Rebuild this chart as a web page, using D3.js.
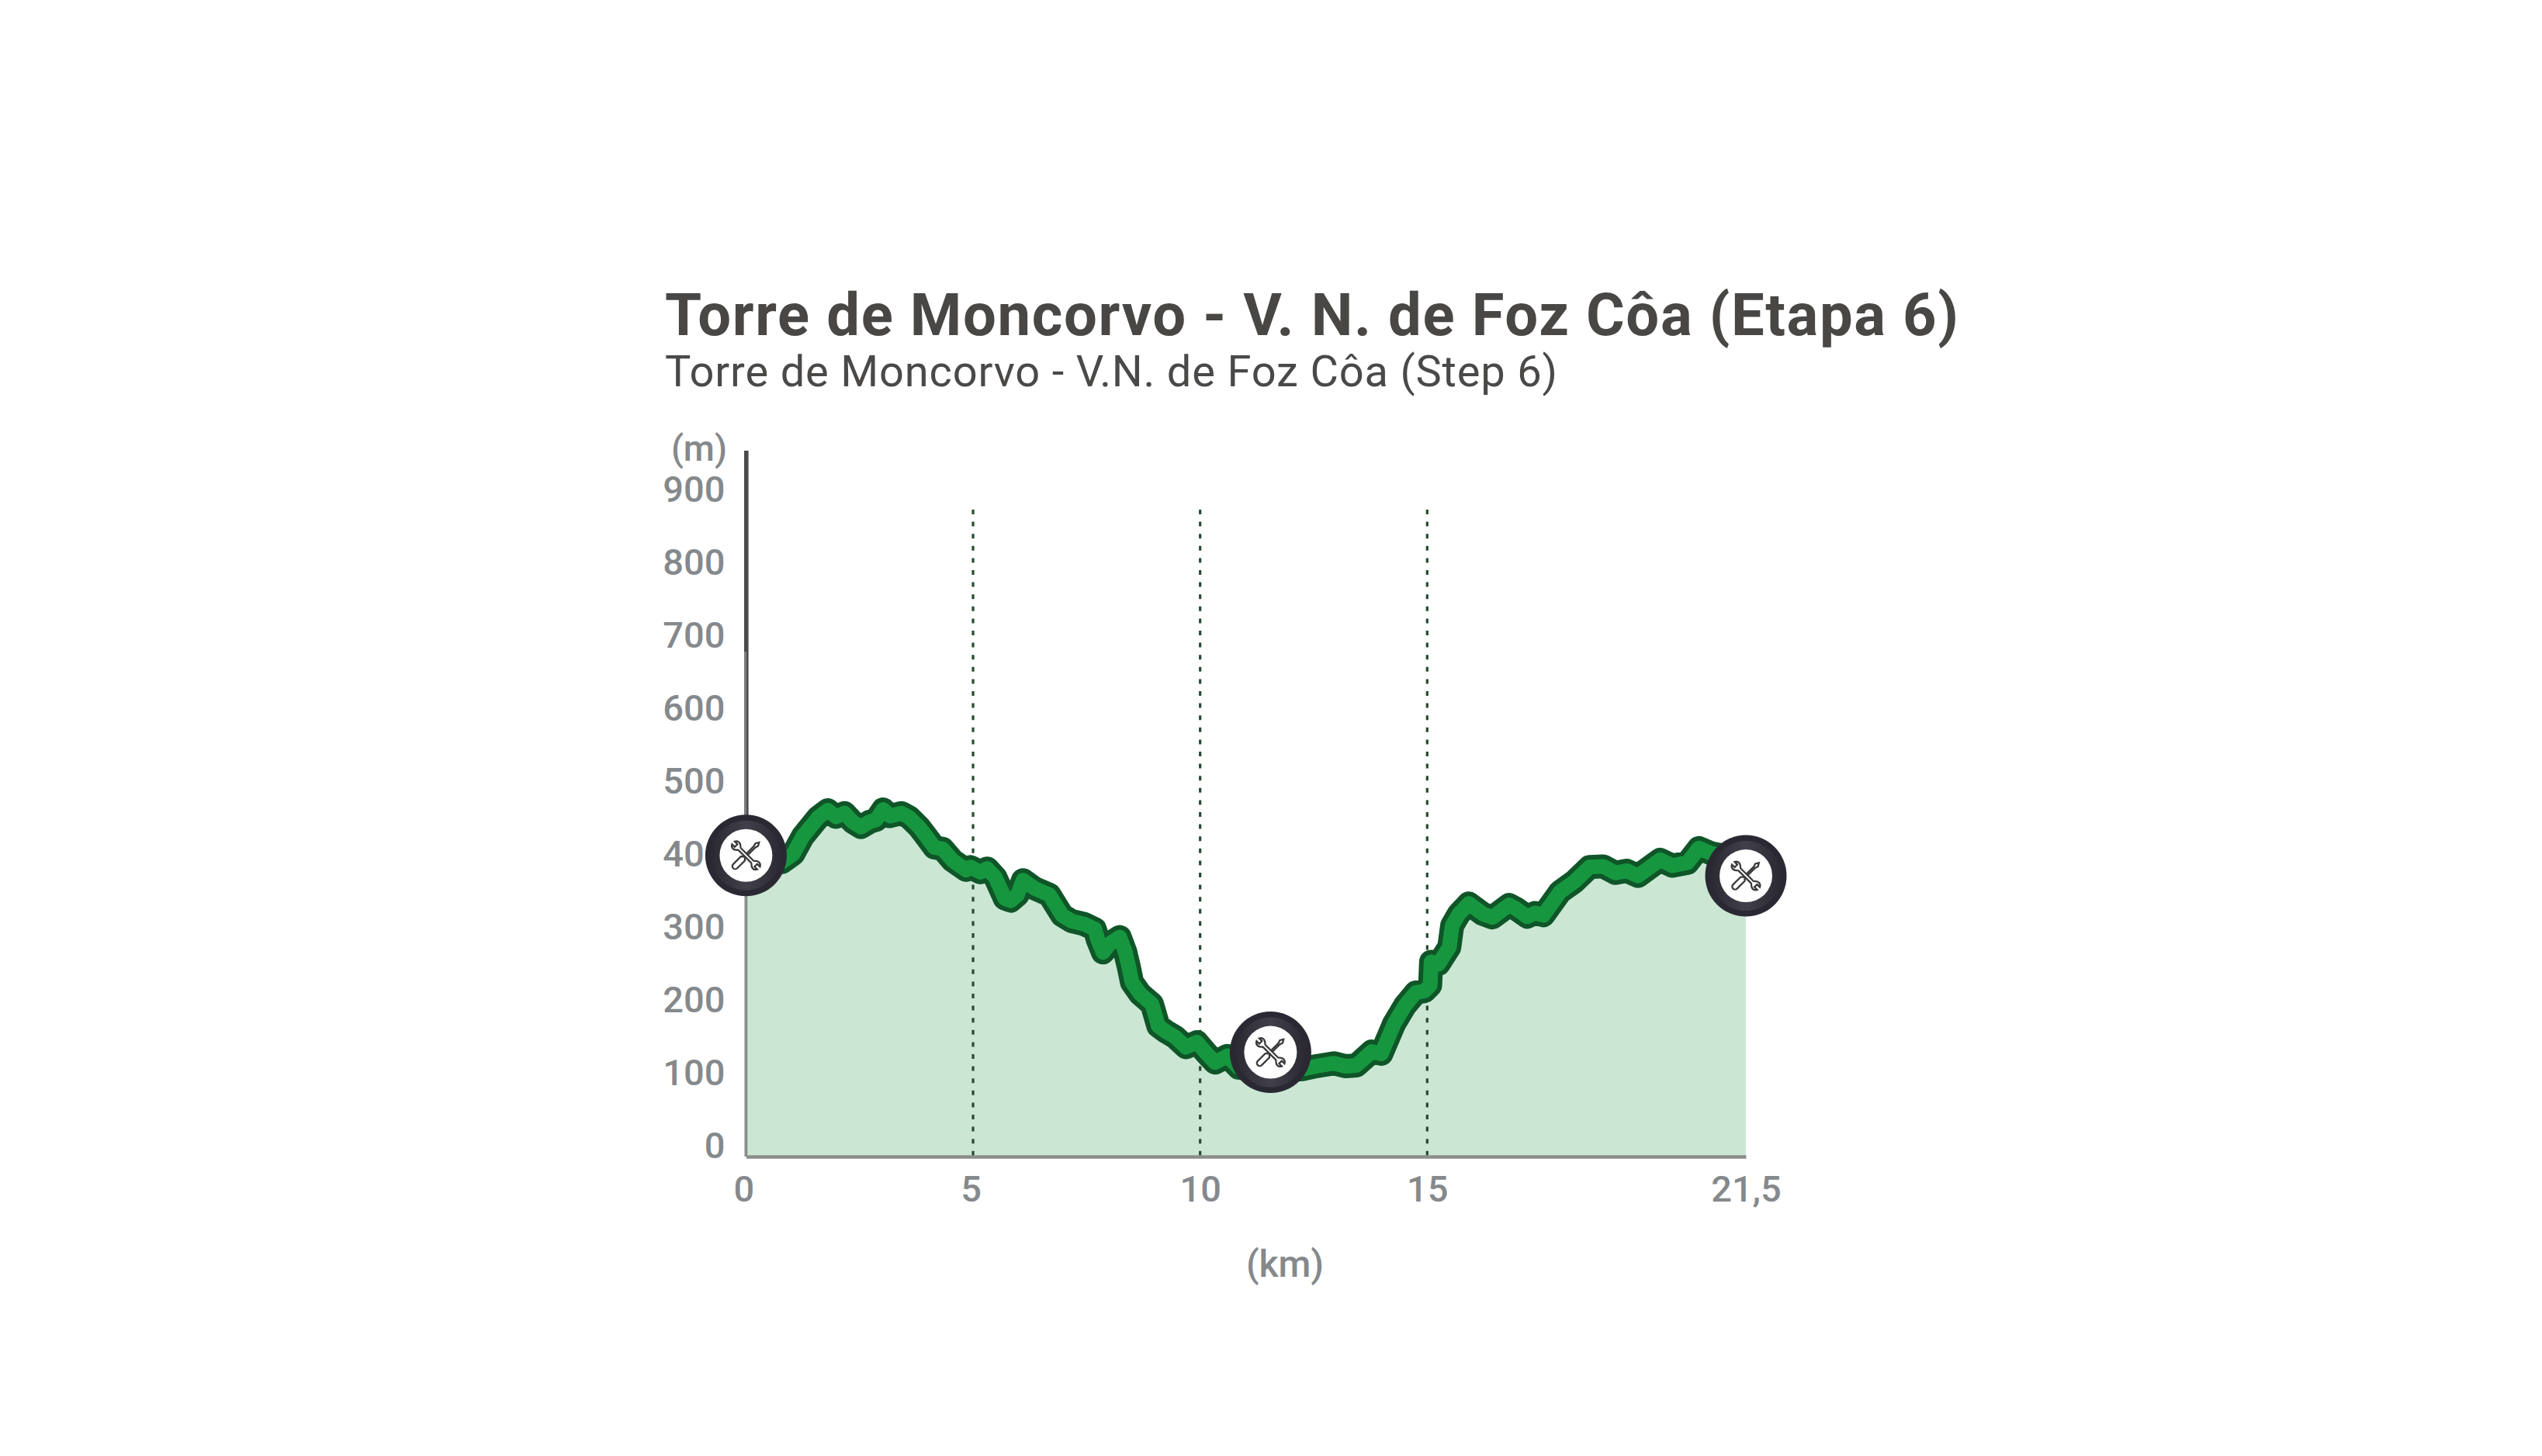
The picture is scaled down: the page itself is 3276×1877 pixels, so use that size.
<!DOCTYPE html>
<html>
<head>
<meta charset="utf-8">
<title>Torre de Moncorvo - V. N. de Foz Côa (Etapa 6)</title>
<script src="https://cdn.jsdelivr.net/npm/d3@7"></script>
<style>
  html, body { margin: 0; padding: 0; background: #fff; }
  svg { display: block; }
  text { font-family: Roboto, "Noto Sans", sans-serif; }
</style>
</head>
<body>
<svg></svg>
<script>
'use strict'

const titleText = 'Torre de Moncorvo - V. N. de Foz Côa (Etapa 6)'
const subtitleText = 'Torre de Moncorvo - V.N. de Foz Côa (Step 6)'

const km = [0, 0.79, 1.04, 1.25, 1.59, 1.8, 1.98, 2.17, 2.35, 2.53, 2.72, 2.87, 3.02, 3.17, 3.42, 3.6, 3.81, 3.97, 4.15, 4.33, 4.55, 4.85, 4.94, 5.16, 5.31, 5.49, 5.7, 5.83, 5.98, 6.1, 6.35, 6.68, 6.96, 7.17, 7.44, 7.68, 7.75, 7.86, 8.01, 8.23, 8.35, 8.43, 8.5, 8.68, 8.94, 9.08, 9.26, 9.45, 9.69, 9.93, 10.12, 10.33, 10.6, 10.85, 11.55, 12.25, 12.56, 12.95, 13.2, 13.44, 13.78, 13.99, 14.27, 14.51, 14.75, 14.94, 15.06, 15.08, 15.23, 15.45, 15.51, 15.65, 15.85, 16.13, 16.33, 16.47, 16.67, 16.81, 17.04, 17.2, 17.37, 17.71, 18, 18.31, 18.59, 18.84, 19.07, 19.3, 19.75, 20, 20.31, 20.54, 20.79, 21.16, 21.5]
const elevation = [400, 404, 415, 439, 465, 475, 466, 471, 459, 452, 459, 462, 476, 467, 471, 465, 452, 439, 424, 422, 406, 393, 397, 390, 395, 383, 354, 351, 359, 379, 368, 359, 331, 323, 319, 312, 297, 280, 292, 301, 281, 260, 239, 223, 209, 179, 171, 164, 150, 157, 143, 129, 138, 122, 117, 120, 124, 128, 124, 125, 144, 141, 182, 207, 225, 227, 235, 267, 264, 287, 317, 333, 347, 333, 328, 335, 345, 340, 329, 334, 331, 363, 377, 397, 398, 389, 392, 385, 407, 399, 403, 423, 416, 411, 409]

const yTicks = [0, 100, 200, 300, 400, 500, 600, 700, 800, 900]
const xTicks = [0, 5, 10, 15, 21.5]
const gridKm = [5, 10, 15]
const serviceKm = [0, 11.55, 21.5]
const serviceElevation = [413, 143, 385]

const width = 3276
const height = 1877

const x = d3.scaleLinear().domain([0, 15, 21.5]).range([961.4, 1839.3, 2250])
const y = d3.scaleLinear().domain([0, 900]).range([1491, 645])
const points = km.map((d, i) => [d, elevation[i]])

const svg = d3.select('svg').attr('width', width).attr('height', height)

// titles
svg.append('text')
  .attr('x', 857).attr('y', 432)
  .attr('font-size', 76).attr('font-weight', 700).attr('fill', '#484745')
  .attr('textLength', 1667).attr('lengthAdjust', 'spacing')
  .text(titleText)
svg.append('text')
  .attr('x', 857).attr('y', 498)
  .attr('font-size', 56).attr('font-weight', 400).attr('fill', '#4a4948')
  .attr('textLength', 1150).attr('lengthAdjust', 'spacing')
  .text(subtitleText)

// area
svg.append('path')
  .datum(points)
  .attr('fill', '#cbe7d4')
  .attr('d', d3.area().x(d => x(d[0])).y0(y(0)).y1(d => y(d[1])))

// dotted km lines
svg.append('g').selectAll('line')
  .data(gridKm)
  .join('line')
  .attr('x1', d => x(d)).attr('x2', d => x(d))
  .attr('y1', 657).attr('y2', y(0))
  .attr('stroke', '#264a30')
  .attr('stroke-width', 3.2)
  .attr('stroke-dasharray', '6 9.6')

// axes
const xAxis = svg.append('g')
  .attr('transform', `translate(0,${y(0)})`)
  .call(d3.axisBottom(x).tickValues(xTicks).tickSize(0).tickPadding(25)
    .tickFormat(d => String(d).replace('.', ',')))
xAxis.select('.domain').attr('stroke', '#8c8e8e').attr('stroke-width', 4.5)
xAxis.selectAll('text')
  .attr('dx', d => d <= 5 ? -3 : 0)
  .attr('font-size', 47).attr('font-weight', 500).attr('fill', '#85898c')
  .attr('font-family', 'Roboto')

const yAxis = svg.append('g')
  .attr('transform', `translate(${x(0)},0)`)
  .call(d3.axisLeft(y).tickValues(yTicks).tickSize(0).tickPadding(27))
yAxis.select('.domain').remove()
yAxis.selectAll('text')
  .attr('dy', 1.5)
  .attr('font-size', 47).attr('font-weight', 500).attr('fill', '#85898c')
  .attr('font-family', 'Roboto')

// vertical axis: wide dark stretch at the top, then dark with a grey left half, grey over the profile
svg.append('line')
  .attr('x1', x(0) + 0.4).attr('x2', x(0) + 0.4)
  .attr('y1', 581).attr('y2', 840)
  .attr('stroke', '#4a4a4b').attr('stroke-width', 5.6)
svg.append('line')
  .attr('x1', x(0) - 1).attr('x2', x(0) - 1)
  .attr('y1', 840).attr('y2', y(elevation[0]))
  .attr('stroke', '#77787a').attr('stroke-width', 2.8)
svg.append('line')
  .attr('x1', x(0) + 1.8).attr('x2', x(0) + 1.8)
  .attr('y1', 840).attr('y2', y(elevation[0]))
  .attr('stroke', '#4a4a4b').attr('stroke-width', 2.8)
svg.append('line')
  .attr('x1', x(0)).attr('x2', x(0))
  .attr('y1', y(elevation[0])).attr('y2', y(0))
  .attr('stroke', '#8a8d8d').attr('stroke-width', 3.8)

svg.append('text')
  .attr('x', 937).attr('y', 594)
  .attr('text-anchor', 'end')
  .attr('font-size', 46).attr('font-weight', 500).attr('fill', '#85898c')
  .text('(m)')
svg.append('text')
  .attr('x', 1656).attr('y', 1646)
  .attr('text-anchor', 'middle')
  .attr('font-size', 48).attr('font-weight', 500).attr('fill', '#85898c')
  .text('(km)')

// profile line
const line = d3.line().x(d => x(d[0])).y(d => y(d[1]))
svg.append('path')
  .datum(points)
  .attr('fill', 'none')
  .attr('stroke', '#0f5528')
  .attr('stroke-width', 31)
  .attr('stroke-linejoin', 'round')
  .attr('d', line)
svg.append('path')
  .datum(points)
  .attr('fill', 'none')
  .attr('stroke', '#16973f')
  .attr('stroke-width', 19)
  .attr('stroke-linejoin', 'round')
  .attr('d', line)

// service point markers
const rim = svg.append('defs').append('linearGradient')
  .attr('id', 'rim')
  .attr('x1', 0).attr('x2', 1).attr('y1', 0).attr('y2', 0)
rim.append('stop').attr('offset', 0).attr('stop-color', '#2b2a33')
rim.append('stop').attr('offset', 0.5).attr('stop-color', '#413f49')
rim.append('stop').attr('offset', 1).attr('stop-color', '#2b2a33')

const wrench = 'M-2.5,-14C-2.5,-16,-7,-17,-7,-22C-7,-25,-5,-27,-3,-28L-3,-22L3,-22L3,-28C5,-27,7,-25,7,-22C7,-17,2.5,-16,2.5,-14L2.5,14C2.5,16,7,17,7,22C7,25,5,27,3,28L3,22L-3,22L-3,28C-5,27,-7,25,-7,22C-7,17,-2.5,16,-2.5,14Z'
const driver = 'M0,-29L3,-24L1.5,-19L1.5,4L4.5,7L4.5,24A4.5,4.5,0,0,1,-4.5,24L-4.5,7L-1.5,4L-1.5,-19L-3,-24Z'

const marker = svg.append('g').selectAll('g')
  .data(serviceKm.map((d, i) => [d, serviceElevation[i]]))
  .join('g')
  .attr('transform', d => `translate(${x(d[0])},${y(d[1])})`)
marker.append('circle').attr('r', 52.5).attr('fill', '#2a2933')
marker.append('circle').attr('r', 45).attr('fill', 'url(#rim)')
marker.append('circle').attr('r', 34).attr('fill', '#fff')
marker.append('path')
  .attr('d', driver)
  .attr('transform', 'rotate(45) scale(0.82)')
  .attr('fill', '#fff').attr('stroke', '#3a3a3c').attr('stroke-width', 2.8)
marker.append('path')
  .attr('d', wrench)
  .attr('transform', 'rotate(-45) scale(0.82)')
  .attr('fill', '#fff').attr('stroke', '#3a3a3c').attr('stroke-width', 2.8)
</script>
</body>
</html>
